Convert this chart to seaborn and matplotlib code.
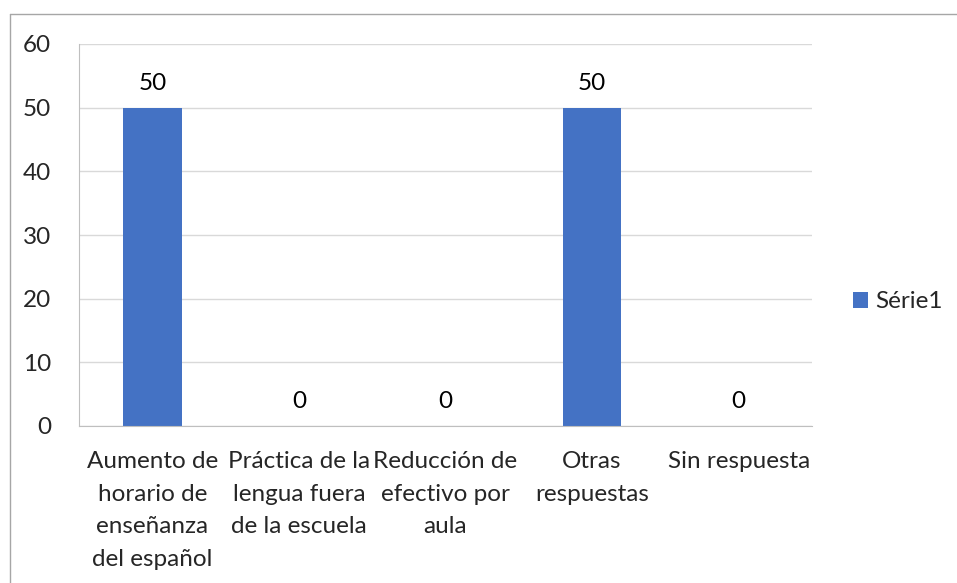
import matplotlib
matplotlib.use("Agg")
import matplotlib.pyplot as plt
from matplotlib.lines import Line2D
import seaborn as sns
import pandas as pd

# data
categories = ["Aumento de\nhorario de\nenseñanza\ndel español",
              "Práctica de la\nlengua fuera\nde la escuela",
              "Reducción de\nefectivo por\naula",
              "Otras\nrespuestas",
              "Sin respuesta"]
values = [50, 0, 0, 50, 0]
series_name = "Série1"
y_ticks = [0, 10, 20, 30, 40, 50, 60]

BAR_COLOR = "#4472C4"
GRID_COLOR = "#d9d9d9"
AXIS_COLOR = "#bfbfbf"
FS = 17.5

sns.set_style("white")
plt.rcParams["font.family"] = ["Lato", "DejaVu Sans"]

W, H = 957, 583
fig = plt.figure(figsize=(W / 100, H / 100), dpi=100)
ax = fig.add_axes([79 / W, 1 - 426 / H, (812 - 79) / W, (426 - 44) / H])

df = pd.DataFrame({"cat": categories, "val": values})
sns.barplot(data=df, x="cat", y="val", color=BAR_COLOR, width=0.4,
            saturation=1, ax=ax, label=series_name, linewidth=0)

ax.bar_label(ax.containers[0], fmt="%g", padding=10, fontsize=FS, color="#000000")

ax.set_xlim(-0.5, len(categories) - 0.5)
ax.set_ylim(0, 60)
ax.set_yticks(y_ticks)
ax.set_yticklabels([str(t) for t in y_ticks], fontsize=FS)
ax.yaxis.grid(True, color=GRID_COLOR, linewidth=1)
ax.set_axisbelow(True)
ax.tick_params(axis="y", length=8, color=GRID_COLOR, pad=12, width=1)

ax.set_xticks(range(len(categories)))
ax.set_xticklabels(categories, fontsize=FS, linespacing=1.68, va="top")
ax.tick_params(axis="x", length=0, pad=18)
ax.set_xticks([i - 0.5 for i in range(len(categories) + 1)], minor=True)
ax.tick_params(axis="x", which="minor", length=7, color=AXIS_COLOR, width=1)
ax.set_xlabel("")
ax.set_ylabel("")

for side in ["top", "right"]:
    ax.spines[side].set_visible(False)
ax.spines["left"].set_color(AXIS_COLOR)
ax.spines["bottom"].set_color(AXIS_COLOR)

leg = ax.legend(loc="center left", bbox_to_anchor=(853 / W, 1 - 302 / H),
                bbox_transform=fig.transFigure, frameon=False, fontsize=FS,
                handlelength=0.6, handleheight=0.6, handletextpad=0.3,
                borderpad=0, borderaxespad=0)

# outer chart border
fig.add_artist(Line2D([10 / W, 10 / W], [0, 1 - 14 / H], color="#a6a6a6", lw=1,
                      transform=fig.transFigure))
fig.add_artist(Line2D([10 / W, 1], [1 - 14 / H, 1 - 14 / H], color="#a6a6a6", lw=1,
                      transform=fig.transFigure))

fig.savefig("out.png", dpi=100, facecolor="white")
